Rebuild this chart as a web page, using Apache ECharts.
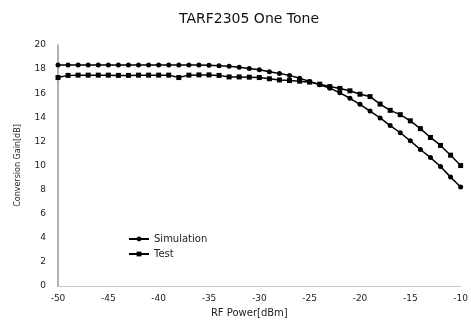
<!DOCTYPE html>
<html>
<head>
<meta charset="utf-8">
<script src="https://cdn.jsdelivr.net/npm/echarts@6/dist/echarts.min.js"></script>
<style>
  html, body { margin: 0; padding: 0; background: #fff; }
  #chart { width: 471px; height: 323px; }
</style>
</head>
<body>
<div id="chart"></div>
<script>
// RF input power, -50 .. -10 dBm in 1 dB steps
const rfPower = [
  -50, -49, -48, -47, -46, -45, -44, -43, -42, -41, -40,
  -39, -38, -37, -36, -35, -34, -33, -32, -31, -30,
  -29, -28, -27, -26, -25, -24, -23, -22, -21, -20,
  -19, -18, -17, -16, -15, -14, -13, -12, -11, -10
];
const simulation = [
  18.35, 18.35, 18.35, 18.35, 18.35, 18.35, 18.35, 18.35, 18.35, 18.35, 18.35,
  18.35, 18.35, 18.34, 18.34, 18.32, 18.28, 18.24, 18.16, 18.06, 17.94,
  17.79, 17.64, 17.48, 17.24, 16.98, 16.7, 16.42, 16.03, 15.58, 15.08,
  14.52, 13.95, 13.32, 12.72, 12.05, 11.33, 10.66, 9.92, 9.04, 8.22
];
const test = [
  17.3, 17.48, 17.5, 17.5, 17.5, 17.5, 17.48, 17.48, 17.5, 17.5, 17.5,
  17.5, 17.3, 17.5, 17.52, 17.52, 17.48, 17.35, 17.35, 17.33, 17.3,
  17.2, 17.1, 17.05, 17.0, 16.92, 16.75, 16.55, 16.4, 16.2, 15.92,
  15.72, 15.1, 14.58, 14.22, 13.71, 13.06, 12.33, 11.67, 10.86, 10.0
];

const chart = echarts.init(document.getElementById("chart"));
const font = "DejaVu Sans";

chart.setOption({
  backgroundColor: "#fff",
  animation: false,
  title: {
    text: "TARF2305 One Tone",
    left: 244,
    top: 7,
    textAlign: "center",
    textStyle: { fontFamily: font, fontSize: 14, fontWeight: "normal", color: "#111" },
  },
  legend: {
    orient: "vertical",
    left: 123,
    top: 229,
    itemWidth: 20,
    itemHeight: 6,
    itemGap: 5,
    textStyle: { fontFamily: font, fontSize: 10, color: "#222" },
    data: ["Simulation", "Test"],
  },
  grid: { left: 58, right: 4, top: 45, bottom: 31, containLabel: false },
  xAxis: {
    type: "value",
    min: -50,
    max: -10,
    interval: 5,
    name: "RF Power[dBm]",
    nameLocation: "middle",
    nameGap: 20,
    nameTextStyle: { fontFamily: font, fontSize: 10, color: "#222", padding: [0, 0, 0, -20] },
    axisLine: { show: true, lineStyle: { color: "#bbb", type: "dotted", width: 1 } },
    axisTick: { show: false },
    axisLabel: { fontFamily: font, fontSize: 9, color: "#222", margin: 8 },
    splitLine: { show: false },
  },
  yAxis: {
    type: "value",
    min: 0,
    max: 20,
    interval: 2,
    name: "Conversion Gain[dB]",
    nameLocation: "middle",
    nameGap: 36,
    nameTextStyle: { fontFamily: font, fontSize: 8, color: "#222" },
    axisLine: { show: true, lineStyle: { color: "#999", width: 1.5 } },
    axisTick: { show: false },
    axisLabel: { fontFamily: font, fontSize: 9, color: "#222", margin: 12 },
    splitLine: { show: false },
  },
  series: [
    {
      name: "Simulation",
      type: "line",
      data: rfPower.map((x, i) => [x, simulation[i]]),
      symbol: "circle",
      symbolSize: 5,
      lineStyle: { color: "#000", width: 1.5 },
      itemStyle: { color: "#000" },
    },
    {
      name: "Test",
      type: "line",
      data: rfPower.map((x, i) => [x, test[i]]),
      symbol: "rect",
      symbolSize: 5,
      lineStyle: { color: "#000", width: 1.5 },
      itemStyle: { color: "#000" },
    },
  ],
});
</script>
</body>
</html>
